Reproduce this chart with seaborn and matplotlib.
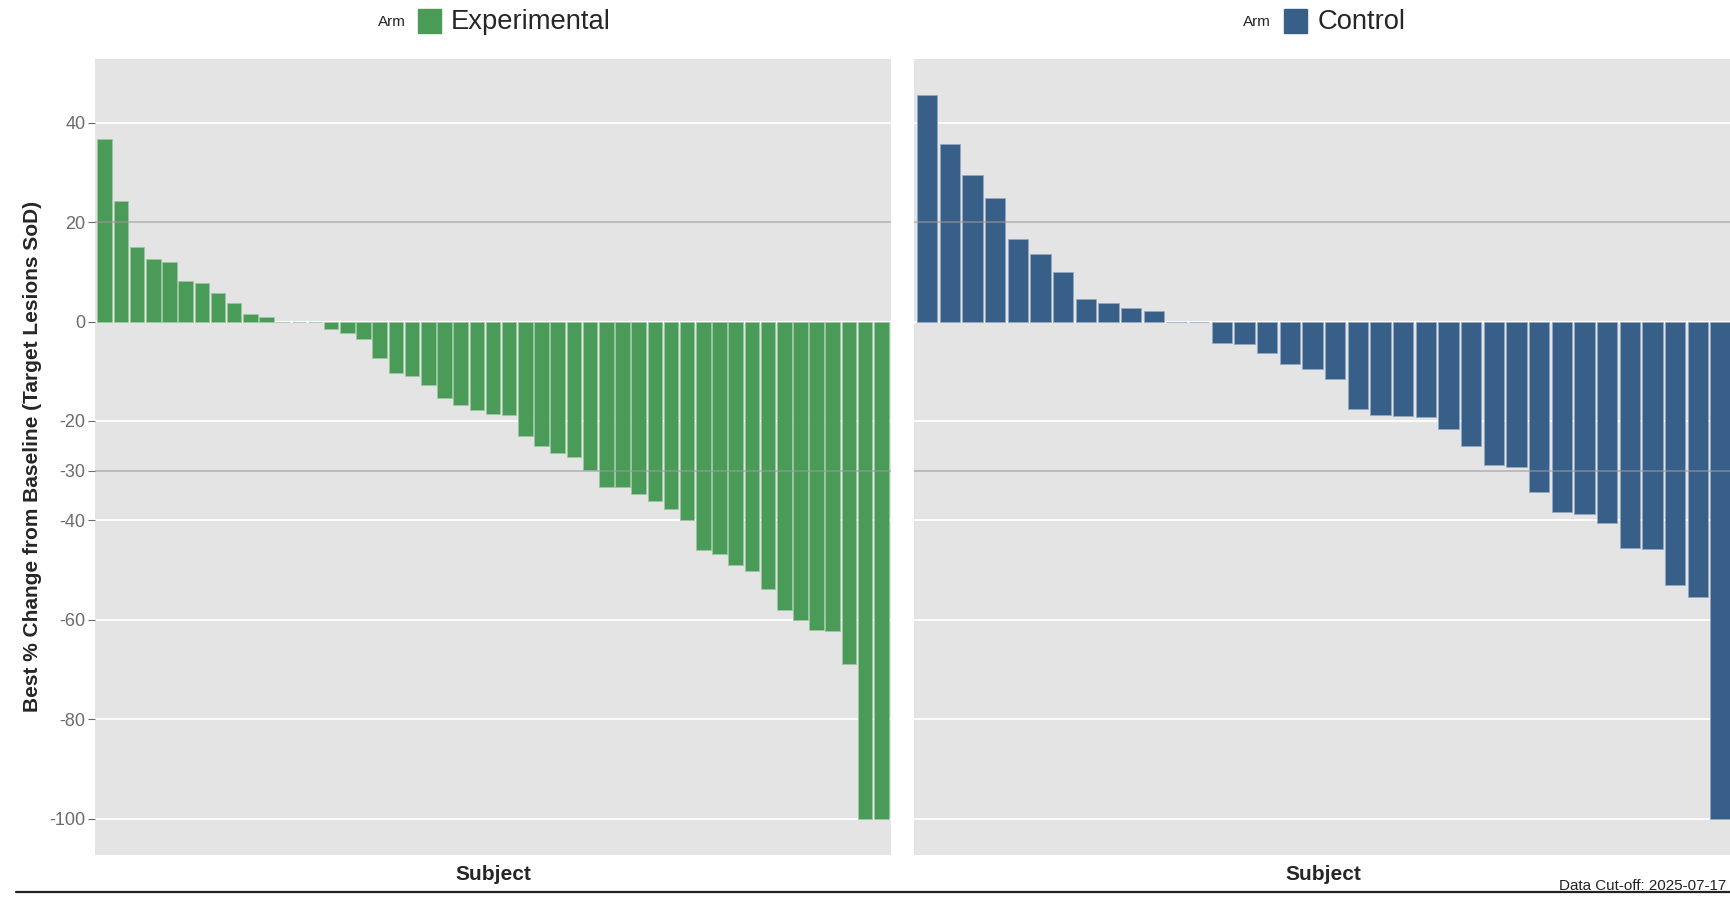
import matplotlib
matplotlib.use("Agg")
import matplotlib.pyplot as plt
import seaborn as sns
import pandas as pd
from matplotlib.lines import Line2D

# best % change per subject, sorted as in the waterfall
exp_values = [36.7, 24.2, 15.0, 12.6, 11.9, 8.1, 7.8, 5.8, 3.7, 1.5, 1.0, 0, 0, 0,
              -1.6, -2.3, -3.6, -7.4, -10.4, -11.0, -12.7, -15.4, -16.8, -17.8,
              -18.7, -18.8, -23.0, -25.0, -26.5, -27.2, -29.8, -33.3, -33.3,
              -34.7, -36.1, -37.7, -40.0, -46.0, -46.8, -49.0, -50.1, -53.7,
              -58.1, -60.0, -62.1, -62.3, -68.8, -100, -100]
ctl_values = [45.6, 35.8, 29.4, 24.9, 16.5, 13.6, 10.0, 4.5, 3.7, 2.8, 2.1, 0, 0,
              -4.3, -4.5, -6.3, -8.6, -9.5, -11.5, -17.5, -18.8, -19.1, -19.3,
              -21.7, -25.1, -28.9, -29.3, -34.2, -38.4, -38.7, -40.6, -45.5,
              -45.7, -52.9, -55.5, -100]
arms = ["Experimental", "Control"]
arm_colors = {"Experimental": "#4A9A58", "Control": "#375F88"}
edge_colors = {"Experimental": "#9CC7A3", "Control": "#93A9C2"}
y_ticks = [40, 20, 0, -20, -30, -40, -60, -80, -100]
grid_lines = [40, 0, -20, -40, -60, -80, -100]
ref_lines = [20, -30]
y_label = "Best % Change from Baseline (Target Lesions SoD)"
x_label = "Subject"
cutoff_text = "Data Cut-off: 2025-07-17"

sns.set_style("white")
plt.rcParams["font.family"] = ["Liberation Sans", "DejaVu Sans"]

W, H = 1730, 897
fig = plt.figure(figsize=(W / 100, H / 100), dpi=100)


def rect(x0, y0, x1, y1):
  return [x0 / W, 1 - y1 / H, (x1 - x0) / W, (y1 - y0) / H]


def waterfall(ax, values, arm, show_y):
  df = pd.DataFrame({"subject": [str(i) for i in range(len(values))],
                     "pct": values})
  ax.set_facecolor("#E4E4E4")
  for g in grid_lines:
    ax.axhline(g, color="white", lw=1.3, zorder=0)
  sns.barplot(data=df, x="subject", y="pct", color=arm_colors[arm],
              width=0.9, saturation=1, edgecolor=edge_colors[arm],
              linewidth=0.6, ax=ax, zorder=2)
  for r in ref_lines:
    ax.axhline(r, color="#9A9A9A", lw=1.1, alpha=0.7, zorder=3)
  ax.set_xlim(-0.6, len(values) - 0.4)
  ax.set_ylim(-107.3, 52.9)
  ax.set_xticks([])
  ax.set_yticks(y_ticks)
  for s in ax.spines.values():
    s.set_visible(False)
  ax.set_xlabel(x_label, fontsize=15, fontweight="bold", labelpad=7.5)
  if show_y:
    ax.set_yticklabels([str(t) for t in y_ticks], fontsize=13,
                       color="#6B6B6B")
    ax.tick_params(axis="y", length=5, width=0.8, color="#6B6B6B", pad=2,
                   left=True)
    ax.set_ylabel(y_label, fontsize=15, fontweight="bold", labelpad=5)
  else:
    ax.set_yticklabels([])
    ax.tick_params(axis="y", length=0)
    ax.set_ylabel("")


ax1 = fig.add_axes(rect(95, 58.5, 891, 855))
ax2 = fig.add_axes(rect(913.5, 58.5, 1734, 855))
waterfall(ax1, exp_values, "Experimental", True)
waterfall(ax2, ctl_values, "Control", False)

# legends on top of each panel
for arm, x_arm, x_box, x_txt in [("Experimental", 378, 418, 451),
                                 ("Control", 1243, 1284, 1318)]:
  fig.text(x_arm / W, 1 - 22 / H, "Arm", fontsize=11, va="center",
           ha="left")
  fig.patches.append(plt.Rectangle((x_box / W, 1 - 33 / H), 23 / W, 24 / H,
                                   transform=fig.transFigure,
                                   color=arm_colors[arm]))
  fig.text(x_txt / W, 1 - 22 / H, arm, fontsize=19.7, va="center", ha="left")

fig.text(1726 / W, 1 - 886 / H, cutoff_text, fontsize=10.9, ha="right",
         va="center", color="#222222")
fig.add_artist(Line2D([16 / W, 1.0], [1 - 892 / H, 1 - 892 / H],
                      color="#222222", lw=1.6, transform=fig.transFigure))

fig.savefig("out.png", dpi=100)
